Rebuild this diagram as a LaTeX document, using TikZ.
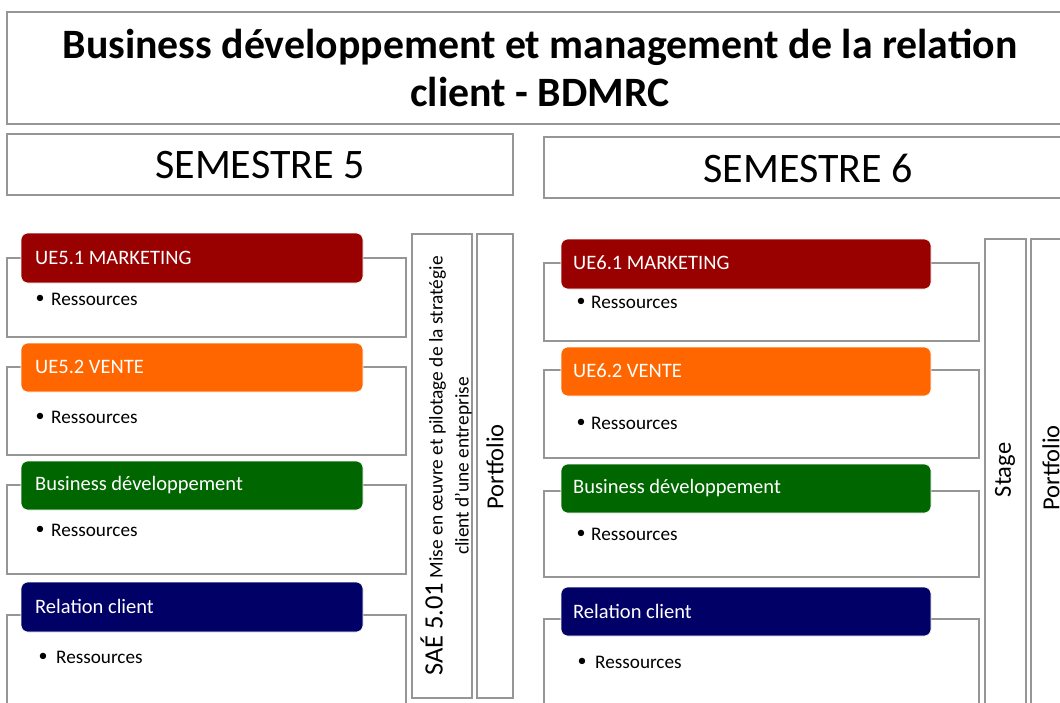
\documentclass[tikz,border=0pt]{standalone}
\usepackage{fontspec}
\setmainfont{Carlito}
\definecolor{framegray}{RGB}{150,150,150}
\definecolor{uered}{RGB}{153,0,0}
\definecolor{ueorange}{RGB}{255,102,0}
\definecolor{uegreen}{RGB}{0,102,0}
\definecolor{uenavy}{RGB}{0,0,102}
\begin{document}
\begin{tikzpicture}[x=1pt,y=-1pt,
  frame/.style={draw=framegray,line width=1.3pt,fill=white,inner sep=0pt,outer sep=0pt,anchor=north west},
  hdr/.style={rounded corners=7pt,draw=white,line width=0.6pt,inner sep=0pt,outer sep=0pt,anchor=north west},
  hdrtext/.style={text=white,font=\fontsize{20.5}{24}\selectfont,anchor=west,inner sep=0pt},
  restext/.style={font=\fontsize{19.2}{22}\selectfont,anchor=west,inner sep=0pt},
  bul/.style={font=\fontsize{18}{22}\selectfont,inner sep=0pt},
  bigtext/.style={font=\fontsize{42}{50}\selectfont,inner sep=0pt},
  vert/.style={rotate=90,font=\fontsize{24.5}{28}\selectfont,inner sep=0pt}]

\useasboundingbox (0,0) rectangle (1060,702);
\fill[white] (0,0) rectangle (1060,702);
\clip (0,0) rectangle (1060,702);

% title
\node[frame,minimum width=1070pt,minimum height=112pt] (title) at (7,12) {};
\node[inner sep=0pt,font=\bfseries\fontsize{41.8}{48}\selectfont,align=center] (titletxt) at (540,68)
  {Business développement et management de la relation\\client - BDMRC};

% semesters
\node[frame,minimum width=506pt,minimum height=61pt] (s5) at (7,134) {};
\node[bigtext] (s5txt) at (260,165) {SEMESTRE 5};
\node[frame,minimum width=530pt,minimum height=61pt] (s6) at (544,137) {};
\node[bigtext] (s6txt) at (808,168) {SEMESTRE 6};

% ---- Semestre 5 blocks
\node[frame,minimum width=399pt,minimum height=79pt] (w51) at (7,258) {};
\node[hdr,fill=uered,minimum width=342pt,minimum height=50pt] (h51) at (21,233) {};
\node[hdrtext] (t51) at (35,258) {UE5.1 MARKETING};
\node[bul] (b51) at (40,299) {•};
\node[restext] (r51) at (51,299) {Ressources};

\node[frame,minimum width=399pt,minimum height=88pt] (w52) at (7,367) {};
\node[hdr,fill=ueorange,minimum width=342pt,minimum height=49pt] (h52) at (21,343) {};
\node[hdrtext] (t52) at (35,367) {UE5.2 VENTE};
\node[bul] (b52) at (40,417) {•};
\node[restext] (r52) at (51,417) {Ressources};

\node[frame,minimum width=399pt,minimum height=89pt] (w53) at (7,485) {};
\node[hdr,fill=uegreen,minimum width=342pt,minimum height=49pt] (h53) at (21,461) {};
\node[hdrtext] (t53) at (35,485) {Business développement};
\node[bul] (b53) at (40,530) {•};
\node[restext] (r53) at (51,530) {Ressources};

\node[frame,minimum width=399pt,minimum height=110pt] (w54) at (7,615) {};
\node[hdr,fill=uenavy,minimum width=342pt,minimum height=50pt] (h54) at (21,582) {};
\node[hdrtext] (t54) at (35,606) {Relation client};
\node[bul] (b54) at (43,657) {•};
\node[restext] (r54) at (56,657) {Ressources};

% SAE and portfolio S5
\node[frame,minimum width=60pt,minimum height=464pt] (sae) at (412,234) {};
\node[frame,minimum width=36pt,minimum height=464pt] (pf5) at (477,234) {};
\node[rotate=90,inner sep=0pt,align=center,font=\fontsize{19.4}{26}\selectfont] (saetxt) at (446,466)
  {{\fontsize{26.5}{26}\selectfont SAÉ 5.01} Mise en œuvre et pilotage de la stratégie\\client d’une entreprise};
\node[vert] (pf5txt) at (495,467) {Portfolio};

% ---- Semestre 6 blocks
\node[frame,minimum width=435pt,minimum height=78pt] (w61) at (544,263) {};
\node[hdr,fill=uered,minimum width=370pt,minimum height=50pt] (h61) at (561,239) {};
\node[hdrtext] (t61) at (573,263) {UE6.1 MARKETING};
\node[bul] (b61) at (581,302) {•};
\node[restext] (r61) at (591,302) {Ressources};

\node[frame,minimum width=435pt,minimum height=88pt] (w62) at (544,370) {};
\node[hdr,fill=ueorange,minimum width=370pt,minimum height=49pt] (h62) at (561,347) {};
\node[hdrtext] (t62) at (573,371) {UE6.2 VENTE};
\node[bul] (b62) at (581,423) {•};
\node[restext] (r62) at (591,423) {Ressources};

\node[frame,minimum width=435pt,minimum height=86pt] (w63) at (544,491) {};
\node[hdr,fill=uegreen,minimum width=370pt,minimum height=49pt] (h63) at (561,464) {};
\node[hdrtext] (t63) at (573,488) {Business développement};
\node[bul] (b63) at (581,534) {•};
\node[restext] (r63) at (591,534) {Ressources};

\node[frame,minimum width=435pt,minimum height=110pt] (w64) at (544,619) {};
\node[hdr,fill=uenavy,minimum width=370pt,minimum height=49pt] (h64) at (561,587) {};
\node[hdrtext] (t64) at (573,611) {Relation client};
\node[bul] (b64) at (582,662) {•};
\node[restext] (r64) at (595,662) {Ressources};

% Stage and portfolio S6
\node[frame,minimum width=41pt,minimum height=480pt] (stage) at (985,239) {};
\node[frame,minimum width=50pt,minimum height=480pt] (pf6) at (1031,239) {};
\node[vert] (stagetxt) at (1005,470) {Stage};
\node[vert] (pf6txt) at (1051,468) {Portfolio};
\end{tikzpicture}
\end{document}
